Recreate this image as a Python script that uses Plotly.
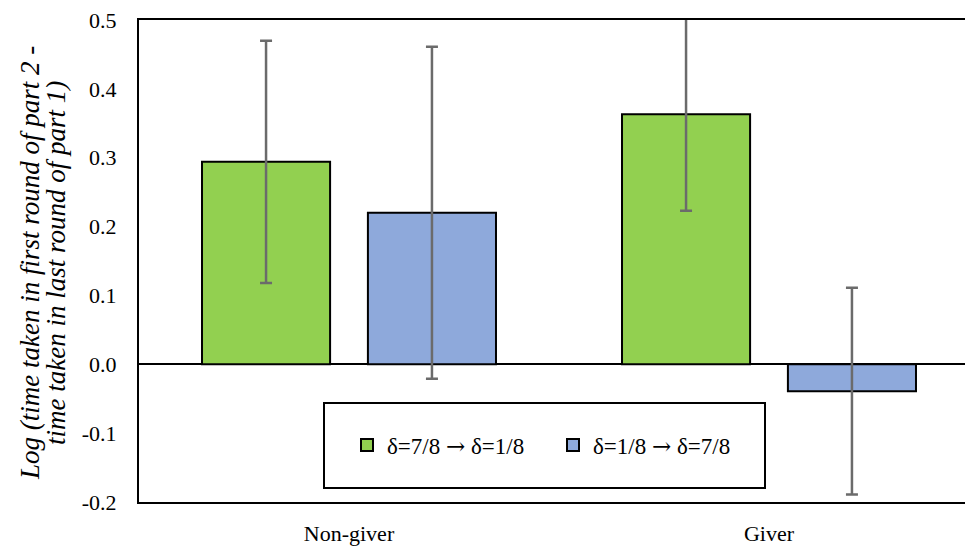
import plotly.graph_objects as go

categories = ["Non-giver", "Giver"]
series_names = ["δ=7/8 → δ=1/8", "δ=1/8 → δ=7/8"]
green_values = [0.294, 0.363]
green_errors = [0.176, 0.140]
blue_values = [0.220, -0.039]
blue_errors = [0.241, 0.150]
y_ticks = [-0.2, -0.1, 0.0, 0.1, 0.2, 0.3, 0.4, 0.5]
y_tick_labels = ["-0.2", "-0.1", "0.0", "0.1", "0.2", "0.3", "0.4", "0.5"]
title_lines = ["Log (time taken in first round of part 2 -",
               "time taken in last round of part 1)"]

FONT = "Liberation Serif"
OFF = 8  # default page body margin
W, H = 973 - OFF, 546 - OFF
# plot area in page pixels: left 139, top 20, bottom 502, right 973
ML, MT, MB, MR = 139 - OFF, 20 - OFF, H - (502 - OFF), 0
PW, PH = W - ML - MR, H - MT - MB


def px_x(p):
    return (p - OFF - ML) / PW


def px_y(p):
    return (H - MB - (p - OFF)) / PH


def styled(name):
    return name.replace("→", "<span style='font-family:DejaVu Serif'>→</span>")


fig = go.Figure()
for name, vals, errs, color in [
    (series_names[0], green_values, green_errors, "#92D050"),
    (series_names[1], blue_values, blue_errors, "#8EA9DB"),
]:
    fig.add_trace(go.Bar(
        x=categories, y=vals, name=styled(name),
        marker=dict(color=color, line=dict(color="black", width=2)),
        error_y=dict(type="data", array=errs, visible=True,
                     color="#6b6b6b", thickness=2.5, width=6),
    ))

annotations = []
for line, xpx in zip(title_lines, [30, 56]):
    annotations.append(dict(
        text="<i>" + line + "</i>", xref="paper", yref="paper",
        x=px_x(xpx), y=px_y(263), xanchor="center", yanchor="middle",
        textangle=-90, showarrow=False,
        font=dict(family=FONT, size=27, color="black"),
    ))

fig.update_layout(
    width=W, height=H,
    margin=dict(l=ML, r=MR, t=MT, b=MB, pad=0, autoexpand=False),
    paper_bgcolor="white", plot_bgcolor="white",
    barmode="group", bargap=0.21, bargroupgap=0.228,
    font=dict(family=FONT, size=22, color="black"),
    showlegend=True,
    legend=dict(
        orientation="h", x=px_x(347), xanchor="left",
        y=px_y(445), yanchor="middle",
        bgcolor="rgba(0,0,0,0)", borderwidth=0,
        font=dict(family=FONT, size=23, color="black"),
        entrywidth=161, entrywidthmode="pixels",
    ),
    shapes=[dict(
        type="rect", xref="paper", yref="paper",
        x0=px_x(324), x1=px_x(765), y0=px_y(488), y1=px_y(403),
        line=dict(color="black", width=2), fillcolor="rgba(0,0,0,0)",
        layer="above",
    )],
    annotations=annotations,
)

fig.update_xaxes(
    type="category", range=[-0.5, 1.5 - 6 / 420], automargin=False,
    showline=True, linecolor="black", linewidth=2, mirror=True,
    showgrid=False, ticks="", ticklabelstandoff=11,
    ticklabeloverflow="allow",
    tickfont=dict(family=FONT, size=22),
)
fig.update_yaxes(
    range=[-0.2, 0.5], tickvals=y_ticks, ticktext=y_tick_labels,
    automargin=False,
    showline=True, linecolor="black", linewidth=2, mirror=False,
    showgrid=False, ticks="", ticklabelstandoff=16,
    ticklabeloverflow="allow",
    zeroline=True, zerolinecolor="black", zerolinewidth=2,
    tickfont=dict(family=FONT, size=22),
)

fig.write_html("out.html")
